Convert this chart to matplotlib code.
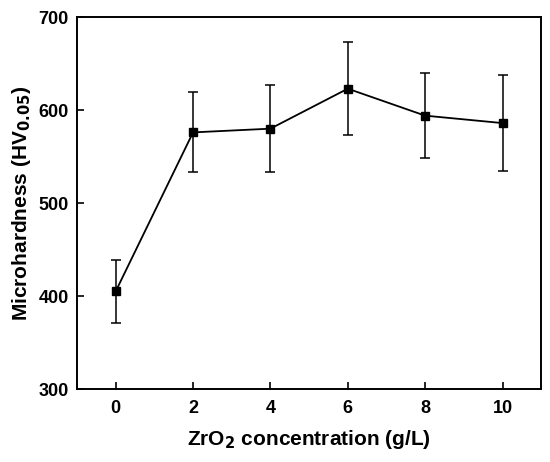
import matplotlib.pyplot as plt

plt.rcParams['font.family'] = ['Liberation Sans', 'DejaVu Sans']
plt.rcParams['font.weight'] = 'bold'

concentration = [0, 2, 4, 6, 8, 10]
hardness = [405, 576, 580, 623, 594, 586]
hardness_err = [34, 43, 47, 50, 46, 52]

fig = plt.figure(figsize=(5.5, 4.62), dpi=100)
ax = fig.add_axes([0.14, 0.158, 0.844, 0.805])

ax.errorbar(concentration, hardness, yerr=hardness_err, color='black',
            marker='s', markersize=5.5, linewidth=1.3, elinewidth=1.1,
            capsize=3.5, capthick=1.1)

ax.set_xlim(-1, 11)
ax.set_ylim(300, 700)
ax.set_xticks([0, 2, 4, 6, 8, 10])
ax.set_yticks([300, 400, 500, 600, 700])
ax.tick_params(direction='in', length=5, width=1.2, labelsize=13)
ax.tick_params(axis='x', pad=8)
ax.tick_params(axis='y', pad=6)
for sp in ax.spines.values():
    sp.set_linewidth(1.4)

ax.set_xlabel('ZrO$_\\mathbf{2}$ concentration (g/L)', fontsize=15,
              fontweight='bold', labelpad=8)
ax.set_ylabel('Microhardness (HV$_\\mathbf{0.05}$)', fontsize=15,
              fontweight='bold', labelpad=4)

fig.savefig('out.png', dpi=100)
